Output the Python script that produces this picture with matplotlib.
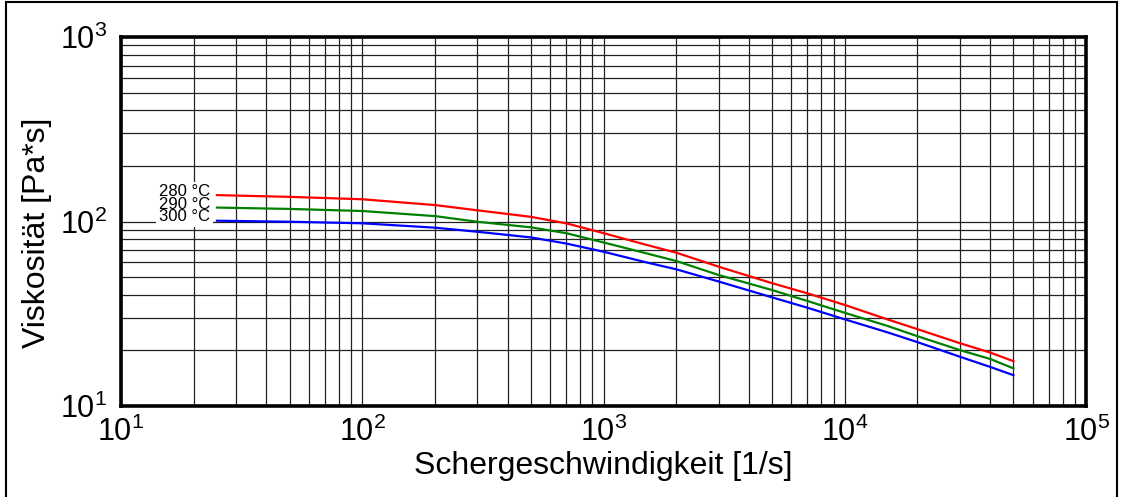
import numpy as np
import matplotlib.pyplot as plt
from matplotlib.patches import Rectangle

plt.rcParams['font.family'] = ['Liberation Sans', 'DejaVu Sans']
plt.rcParams['mathtext.default'] = 'regular'

# values
shear = [25, 50, 100, 200, 300, 500, 700, 1000, 1500, 2000, 3000, 5000, 7000,
         10000, 15000, 20000, 30000, 40000, 50000]
visc_280 = [139, 136, 132, 122.8, 115, 106, 97.8, 86.5, 74.8, 67.8, 56.9, 46.3, 40.8,
            35.3, 29.5, 26.1, 21.9, 19.5, 17.5]
visc_290 = [119, 117, 114, 107, 99.7, 93, 86.5, 77.0, 67.3, 61.1, 51.3, 42.5, 37.1,
            32.0, 27.2, 23.9, 20.1, 18.0, 16.0]
visc_300 = [101, 99.7, 97.8, 92.6, 88, 82, 76, 68.6, 60.1, 55.1, 47.3, 38.8, 34.1,
            29.5, 25.1, 22.2, 18.5, 16.3, 14.7]
temps = ['280 °C', '290 °C', '300 °C']

fig = plt.figure(figsize=(11.22, 4.97), dpi=100)
ax = fig.add_axes([0.1078, 0.183, 0.8602, 0.7426])

ax.plot(shear, visc_280, color='#ff0000', lw=1.6)
ax.plot(shear, visc_290, color='#008000', lw=1.6)
ax.plot(shear, visc_300, color='#0000ff', lw=1.6)

ax.set_xscale('log')
ax.set_yscale('log')
ax.set_xlim(10, 1e5)
ax.set_ylim(10, 1e3)

ax.grid(True, which='both', color='#222222', lw=0.9)
ax.set_axisbelow(True)
ax.tick_params(which='both', length=0, labelsize=22)
ax.tick_params(axis='x', pad=8)
ax.tick_params(axis='y', pad=10)
for s in ax.spines.values():
    s.set_linewidth(2.6)

ax.set_xlabel('Schergeschwindigkeit [1/s]', fontsize=23, labelpad=2)
ax.set_ylabel('Viskosität [Pa*s]', fontsize=23)
ax.yaxis.set_label_coords(-0.071, 0.469)

ax.text(23.4, 124, '\n'.join(temps), ha='right', va='center', fontsize=12,
        linespacing=0.78,
        bbox=dict(facecolor='white', edgecolor='none', pad=2))

fig.patches.append(Rectangle((6 / 1122, -0.01), 1111 / 1122, 1.005, transform=fig.transFigure,
                             fill=False, edgecolor='black', lw=1.5))

fig.savefig('out.png', dpi=100)
